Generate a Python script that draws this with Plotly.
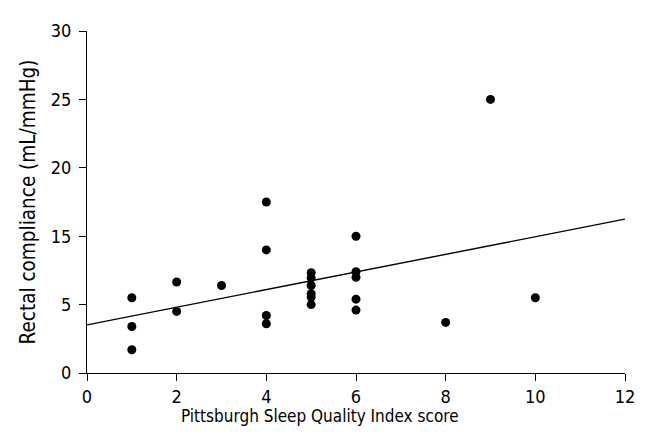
import numpy as np
import plotly.graph_objects as go

# PSQI score (x) and rectal compliance (y, in labelled axis units)
psqi = [1, 1, 1, 2, 2, 3, 4, 4, 4, 4, 5, 5, 5, 5, 5, 5, 6, 6, 6, 6, 6, 8, 9, 10]
compliance = [6.0, 3.4, 1.7, 8.3, 4.5, 7.8, 17.5, 13.0, 4.2, 3.6,
              9.65, 8.9, 7.8, 6.6, 6.1, 5.0,
              15.0, 9.8, 9.0, 5.8, 4.6, 3.7, 25.0, 6.0]

# regression line endpoints (x, y in labelled units)
fit_x = [0, 12]
fit_y = [3.52, 16.25]

# y axis tick labels as printed (evenly spaced on the chart)
y_tick_labels = [0, 5, 15, 20, 25, 30]
y_tick_pos = [0, 1, 2, 3, 4, 5]

x_ticks = [0, 2, 4, 6, 8, 10, 12]

x_title = "Pittsburgh Sleep Quality Index score"
y_title = "Rectal compliance (mL/mmHg)"


def to_pos(v):
    return np.interp(v, y_tick_labels, y_tick_pos)


font_family = "DejaVu Sans Condensed, Liberation Sans Narrow, Liberation Sans, sans-serif"

fig = go.Figure()
fig.add_trace(go.Scatter(
    x=fit_x, y=to_pos(fit_y), mode="lines",
    line=dict(color="black", width=1.4), showlegend=False, hoverinfo="skip"))
fig.add_trace(go.Scatter(
    x=psqi, y=to_pos(compliance), mode="markers",
    marker=dict(color="black", size=9), showlegend=False))

fig.add_annotation(
    text=x_title, xref="paper", yref="paper", x=0.433, y=-0.127,
    xanchor="center", yanchor="middle", showarrow=False,
    font=dict(family=font_family, size=17, color="black"))

fig.update_layout(
    width=648, height=441,
    margin=dict(l=79, r=31, t=14, b=76),
    paper_bgcolor="white", plot_bgcolor="white",
    font=dict(family=font_family, size=18, color="black"),
    xaxis=dict(
        range=[0, 12], tickvals=x_ticks, ticktext=[str(t) for t in x_ticks],
        showline=True, linecolor="black", linewidth=1.3,
        ticks="outside", ticklen=7, tickcolor="black", tickwidth=1.3,
        showgrid=False, zeroline=False,
    ),
    yaxis=dict(
        range=[0, 5], tickvals=y_tick_pos, ticktext=[str(t) for t in y_tick_labels],
        showline=True, linecolor="black", linewidth=1.3,
        ticks="outside", ticklen=7, tickcolor="black", tickwidth=1.3,
        ticklabelstandoff=4,
        showgrid=False, zeroline=False,
        title=dict(text=y_title, standoff=9, font=dict(size=20.5)),
    ),
)

fig.write_html("out.html")
